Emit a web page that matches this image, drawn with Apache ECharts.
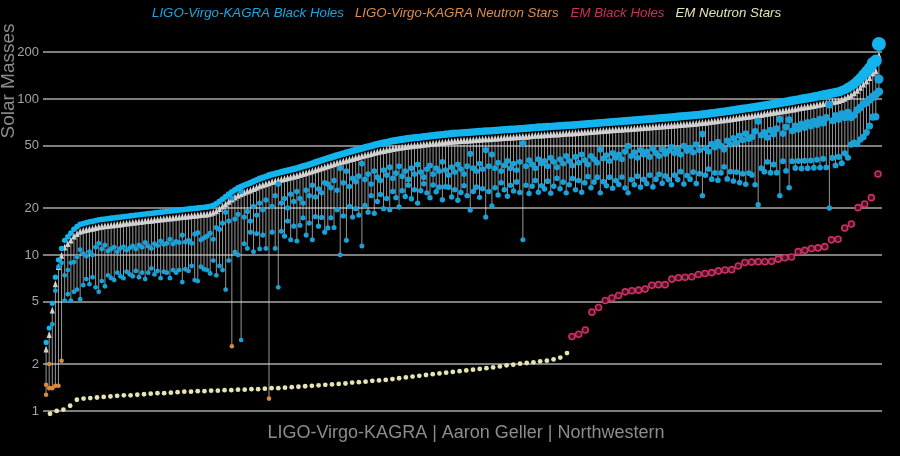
<!DOCTYPE html>
<html>
<head>
<meta charset="utf-8">
<title>Masses in the Stellar Graveyard</title>
<script src="https://cdn.jsdelivr.net/npm/echarts@6/dist/echarts.min.js"></script>
<style>
  html, body { margin: 0; padding: 0; background: #000; }
  #chart { width: 900px; height: 456px; }
</style>
</head>
<body>
<div id="chart"></div>
<script>
// LIGO-Virgo-KAGRA mergers, sorted by remnant mass (solar masses)
const remnant = [
  2.75, 3.4, 4.9, 7.2, 9.3, 11.0, 12.4, 13.1, 13.8, 14.6,
  15.2, 15.7, 15.9, 16.1, 16.3, 16.4, 16.6, 16.8, 16.9, 17.0,
  17.1, 17.2, 17.3, 17.4, 17.5, 17.6, 17.7, 17.8, 17.9, 18.0,
  18.1, 18.2, 18.3, 18.4, 18.5, 18.6, 18.7, 18.8, 18.9, 19.0,
  19.1, 19.2, 19.3, 19.4, 19.5, 19.6, 19.7, 19.8, 19.9, 20.0,
  20.1, 20.2, 20.3, 20.5, 20.8, 21.3, 22.0, 22.8, 23.6, 24.5,
  25.3, 26.1, 26.8, 27.4, 28.0, 28.5, 29.0, 29.6, 30.2, 30.8,
  31.3, 31.8, 32.3, 32.8, 33.2, 33.6, 34.0, 34.4, 34.8, 35.2,
  35.6, 36.0, 36.5, 37.0, 37.5, 38.0, 38.6, 39.2, 39.8, 40.4,
  41.0, 41.6, 42.2, 42.8, 43.4, 44.0, 44.6, 45.2, 45.8, 46.4,
  47.0, 47.6, 48.2, 48.8, 49.4, 50.0, 50.6, 51.2, 51.8, 52.3,
  52.8, 53.3, 53.8, 54.2, 54.6, 55.0, 55.4, 55.8, 56.1, 56.4,
  56.7, 57.0, 57.3, 57.6, 57.9, 58.2, 58.5, 58.8, 59.1, 59.4,
  59.7, 60.0, 60.2, 60.4, 60.6, 60.8, 61.0, 61.2, 61.4, 61.6,
  61.8, 62.0, 62.2, 62.4, 62.6, 62.8, 63.0, 63.2, 63.4, 63.6,
  63.8, 64.0, 64.2, 64.4, 64.6, 64.8, 65.0, 65.3, 65.6, 65.9,
  66.0, 66.2, 66.4, 66.6, 66.8, 67.0, 67.2, 67.4, 67.6, 67.8,
  68.0, 68.3, 68.5, 68.8, 69.0, 69.3, 69.5, 69.8, 70.0, 70.3,
  70.5, 70.8, 71.0, 71.3, 71.5, 71.8, 72.0, 72.3, 72.5, 72.8,
  73.0, 73.3, 73.5, 73.8, 74.0, 74.3, 74.6, 74.9, 75.2, 75.5,
  75.8, 76.1, 76.4, 76.7, 77.0, 77.3, 77.6, 77.9, 78.2, 78.5,
  78.8, 79.2, 79.6, 80.0, 80.5, 81.0, 81.5, 82.0, 82.5, 83.0,
  83.5, 84.0, 84.6, 85.2, 85.8, 86.4, 87.0, 87.6, 88.2, 88.8,
  89.4, 90.0, 90.7, 91.4, 92.1, 92.8, 93.5, 94.2, 95.0, 95.8,
  96.6, 97.4, 98.2, 99.0, 99.8, 100.6, 101.4, 102.2, 103.0, 104.0,
  105, 106, 107, 108, 109, 110, 111, 113, 115, 118,
  121, 125, 130, 136, 143, 150, 158, 170, 176, 225
]

const primary = [
  1.47, 2.0, 3.6, 5.9, 8.4, 8.9, 7.4, 8.0, 8.9, 9.0,
  9.7, 10.8, 10.2, 9.8, 10.5, 10.0, 11.2, 11.9, 10.9, 11.6,
  10.6, 10.9, 11.2, 10.5, 11.0, 11.3, 10.7, 11.1, 11.4, 10.9,
  11.6, 11.2, 12.0, 11.4, 11.0, 11.8, 11.5, 12.3, 11.7, 11.9,
  12.6, 11.8, 12.2, 12.0, 13.4, 12.1, 12.4, 11.9, 13.6, 13.9,
  12.5, 12.9, 13.2, 13.8, 12.6, 15.0, 14.6, 16.0, 18.8, 16.5,
  23.2, 17.0, 18.2, 25.5, 17.5, 19.0, 16.5, 20.5, 18.0, 21.5,
  19.5, 22.5, 32.5, 20.5, 24.0, 28.5, 21.5, 23.0, 20.0, 24.5,
  22.0, 25.5, 23.0, 21.5, 26.0, 24.0, 28.0, 23.5, 26.5, 25.0,
  29.0, 28.5, 27.0, 30.0, 26.0, 36.0, 29.0, 34.5, 27.5, 31.0,
  29.5, 32.0, 38.5, 30.5, 33.0, 28.5, 34.5, 31.5, 30.0, 35.0,
  32.5, 36.5, 31.0, 33.5, 37.0, 32.0, 34.5, 30.5, 36.0, 33.0,
  38.0, 34.0, 31.5, 35.5, 37.5, 33.0, 36.0, 34.5, 39.5, 35.0,
  32.5, 36.5, 34.0, 38.0, 35.5, 33.0, 37.0, 44.5, 36.0, 34.5,
  38.5, 35.5, 47.0, 37.0, 44.0, 36.0, 39.0, 34.5, 37.5, 40.0,
  36.0, 38.5, 35.0, 39.5, 52.0, 37.0, 40.5, 38.0, 36.0, 41.0,
  38.5, 40.0, 37.0, 42.0, 39.5, 36.5, 41.0, 38.5, 43.0, 40.0,
  37.5, 42.5, 39.0, 44.0, 40.5, 38.0, 43.0, 41.0, 39.0, 47.5,
  41.5, 43.5, 40.0, 45.0, 42.0, 44.0, 41.0, 46.0, 50.0, 43.0,
  45.5, 42.0, 47.0, 44.0, 46.0, 42.5, 48.0, 45.0, 43.0, 47.5,
  44.5, 46.5, 49.0, 45.0, 47.5, 44.0, 50.0, 46.5, 48.5, 45.5,
  51.0, 47.0, 59.5, 48.5, 46.0, 51.5, 49.0, 53.0, 50.0, 47.5,
  54.0, 51.0, 56.0, 52.5, 58.0, 54.5, 60.0, 55.5, 57.0, 62.0,
  72.0, 58.5, 61.0, 56.5, 63.0, 59.5, 64.5, 74.0, 60.0, 66.0,
  73.5, 62.5, 67.0, 64.0, 69.0, 65.5, 70.5, 67.0, 72.0, 68.5,
  74.0, 70.0, 76.0, 92.0, 72.5, 78.0, 74.0, 80.0, 76.0, 82.0,
  76.0, 79.0, 85.0, 88.0, 93.0, 95.0, 99.0, 103.0, 107.0, 134.0
]

const secondary = [
  1.27, 1.4, 1.4, 1.45, 1.45, 2.1, 5.1, 5.6, 5.1, 5.8,
  6.0, 5.2, 6.4, 7.0, 6.5, 7.2, 6.2, 5.8, 6.8, 6.3,
  7.4, 7.1, 6.9, 7.7, 7.3, 7.1, 7.8, 7.5, 7.3, 7.9,
  7.2, 7.7, 7.0, 7.7, 8.2, 7.5, 7.9, 7.1, 7.8, 7.7,
  7.1, 8.0, 7.7, 8.0, 6.7, 8.1, 7.9, 8.5, 6.9, 6.8,
  8.4, 8.1, 8.0, 7.6, 9.2, 7.4, 8.5, 8.0, 6.0, 9.2,
  2.6, 10.4, 10.0, 2.85, 11.8, 11.0, 14.0, 10.5, 13.7, 10.9,
  13.4, 11.0, 1.2, 14.0, 11.0, 6.2, 14.2, 13.2, 16.5, 12.5,
  15.3, 12.3, 15.5, 17.3, 13.4, 16.0, 12.5, 17.6, 15.3, 17.4,
  14.0, 14.9, 17.3, 15.0, 19.5, 10.0, 17.8, 12.4, 20.5, 17.5,
  19.8, 18.0, 11.4, 20.8, 18.8, 24.0, 18.5, 22.0, 24.4, 19.8,
  23.0, 19.5, 25.5, 23.3, 20.3, 25.8, 23.7, 28.0, 22.9, 26.2,
  21.5, 25.8, 28.6, 25.0, 23.3, 28.1, 25.4, 27.2, 22.6, 27.4,
  27.2, 23.5, 26.2, 22.4, 25.1, 27.8, 24.0, 19.4, 25.5, 27.2,
  23.4, 26.6, 17.5, 25.5, 20.6, 27.0, 24.2, 29.0, 26.2, 23.8,
  28.0, 25.7, 29.4, 25.1, 12.5, 28.0, 24.8, 27.6, 30.0, 25.2,
  27.8, 26.5, 29.7, 24.9, 27.6, 31.0, 26.6, 29.3, 25.0, 28.2,
  30.9, 26.2, 30.0, 25.2, 29.0, 31.8, 27.0, 29.3, 31.5, 25.0,
  29.5, 27.8, 31.5, 26.8, 30.0, 28.3, 31.6, 26.9, 25.0, 30.4,
  28.2, 32.0, 27.2, 30.5, 28.7, 32.5, 27.3, 30.6, 32.9, 28.8,
  32.1, 30.4, 28.2, 32.5, 30.4, 34.2, 28.5, 32.3, 30.6, 34.0,
  28.7, 33.2, 24.0, 32.5, 35.5, 30.6, 33.6, 30.1, 33.6, 36.7,
  30.7, 34.2, 29.8, 34.0, 29.1, 33.2, 28.4, 33.5, 32.6, 28.2,
  21.0, 36.0, 34.2, 39.5, 33.7, 38.0, 33.7, 24.0, 39.8, 34.6,
  27.0, 39.8, 36.1, 40.0, 35.8, 40.1, 36.0, 40.3, 36.2, 40.7,
  36.3, 41.3, 36.4, 20.0, 41.9, 37.5, 42.5, 38.7, 44.8, 42.0,
  51.0, 52.5, 51.5, 55.0, 57.0, 61.0, 67.0, 76.5, 77.0, 111.0
]

// electromagnetic observations, sorted
const emNeutronStars = [
  0.96, 1.00, 1.02, 1.08, 1.18, 1.20, 1.21, 1.22, 1.23, 1.24,
  1.25, 1.26, 1.26, 1.27, 1.28, 1.29, 1.30, 1.30, 1.31, 1.32,
  1.33, 1.33, 1.34, 1.34, 1.35, 1.35, 1.36, 1.36, 1.37, 1.37,
  1.38, 1.38, 1.39, 1.40, 1.40, 1.41, 1.42, 1.43, 1.44, 1.45,
  1.46, 1.47, 1.48, 1.49, 1.50, 1.52, 1.53, 1.54, 1.56, 1.57,
  1.58, 1.60, 1.62, 1.64, 1.66, 1.68, 1.70, 1.72, 1.74, 1.76,
  1.78, 1.80, 1.82, 1.84, 1.86, 1.88, 1.90, 1.93, 1.96, 1.98,
  2.01, 2.03, 2.05, 2.08, 2.10, 2.14, 2.20, 2.35
]

const emBlackHoles = [
  3.0, 3.1, 3.3, 4.3, 4.6, 5.1, 5.3, 5.5, 5.8, 5.9,
  5.95, 6.05, 6.4, 6.45, 6.45, 7.0, 7.15, 7.2, 7.25, 7.5,
  7.6, 7.7, 7.9, 8.0, 8.05, 8.5, 8.95, 9.0, 9.05, 9.05,
  9.1, 9.4, 9.6, 9.7, 10.5, 10.7, 11.0, 11.1, 11.3, 12.5,
  12.6, 14.9, 15.8, 20.1, 21.2, 23.3, 33
]

const yTicks = [1, 2, 5, 10, 20, 50, 100, 200]

const names = {
  lvkBH: 'LIGO-Virgo-KAGRA Black Holes',
  lvkNS: 'LIGO-Virgo-KAGRA Neutron Stars',
  emBH: 'EM Black Holes',
  emNS: 'EM Neutron Stars'
}
const colors = {
  remnant: '#12b4ee',
  lvkBH: '#1aa1d8',
  lvkNS: '#d98a3e',
  emBH: '#c9325f',
  emNS: '#e6e4b2',
  legendBH: '#1ea6e0',
  legendNS: '#dd8f4c'
}
const font = 'Arial, "Liberation Sans", sans-serif'

const remnantSize = m => 5 + m * 0.04
const compSize = m => 4.6 + m * 0.035

// split the components into black holes / neutron stars, build the arrows
const bhComps = []
const nsComps = []
const remnants = []
const arrows = []
remnant.forEach((r, i) => {
  [primary[i], secondary[i]].forEach(m => {
    (m < 2.7 ? nsComps : bhComps).push([i, m])
  })
  remnants.push([i, r])
  arrows.push([i, Math.min(primary[i], secondary[i]), r])
})

const chart = echarts.init(document.getElementById('chart'))

// all three grids share the same log scale for masses
const massAxis = (gridIndex, show) => ({
  type: 'log',
  logBase: 10,
  gridIndex,
  min: 0.9,
  max: 300,
  axisLine: { show: false },
  axisTick: { show: false, customValues: yTicks },
  axisLabel: {
    show,
    customValues: yTicks,
    color: '#a3a3a3',
    fontSize: 13,
    fontFamily: font,
    margin: 4
  },
  splitLine: { show, lineStyle: { color: '#7e7e7e', width: 2 } }
})

const grid = (left, right) => ({
  left, right, top: 24.5, bottom: 37.9, outerBoundsMode: 'none', containLabel: false
})

const option = {
  backgroundColor: '#000',
  animation: false,
  legend: {
    top: 2,
    left: 142,
    itemWidth: 0,
    itemHeight: 0,
    itemGap: 6,
    selectedMode: false,
    textStyle: { fontSize: 13.3, fontStyle: 'italic', fontFamily: font },
    data: [
      { name: names.lvkBH, textStyle: { color: colors.legendBH } },
      { name: names.lvkNS, textStyle: { color: colors.legendNS } },
      { name: names.emBH, textStyle: { color: colors.emBH } },
      { name: names.emNS, textStyle: { color: colors.emNS } }
    ]
  },
  grid: [grid(43, 18), grid(50, 333), grid(572, 22)],
  xAxis: [
    { type: 'value', gridIndex: 0, min: -1, max: remnant.length, show: false },
    { type: 'value', gridIndex: 1, min: 0, max: emNeutronStars.length - 1, show: false },
    { type: 'value', gridIndex: 2, min: 0, max: emBlackHoles.length - 1, show: false }
  ],
  yAxis: [massAxis(0, true), massAxis(1, false), massAxis(2, false)],
  graphic: [
    {
      type: 'text',
      x: 9,
      y: 81,
      rotation: Math.PI / 2,
      style: {
        text: 'Solar Masses',
        fill: '#8c8c8c',
        font: '19px ' + font,
        align: 'center',
        verticalAlign: 'middle'
      }
    },
    {
      type: 'text',
      x: 466,
      y: 433,
      style: {
        text: 'LIGO-Virgo-KAGRA | Aaron Geller | Northwestern',
        fill: '#8c8c8c',
        font: '18px ' + font,
        align: 'center',
        verticalAlign: 'middle'
      }
    }
  ],
  series: [
    {
      // stems + arrow heads from the components up to the remnant
      name: 'arrows',
      type: 'custom',
      xAxisIndex: 0,
      yAxisIndex: 0,
      z: 2,
      silent: true,
      encode: { x: 0, y: [1, 2] },
      data: arrows,
      renderItem: (params, api) => {
        const lo = api.coord([api.value(0), api.value(1)])
        const hi = api.coord([api.value(0), api.value(2)])
        const tip = hi[1] + remnantSize(api.value(2)) / 2 + 0.5
        return {
          type: 'group',
          children: [
            {
              type: 'line',
              shape: { x1: lo[0], y1: lo[1], x2: hi[0], y2: tip + 5 },
              style: { stroke: 'rgba(215,215,215,0.7)', lineWidth: 1 }
            },
            {
              type: 'polygon',
              shape: { points: [[hi[0], tip], [hi[0] - 2.6, tip + 7], [hi[0] + 2.6, tip + 7]] },
              style: { fill: '#d2d2d2' }
            }
          ]
        }
      }
    },
    {
      name: names.lvkBH,
      type: 'scatter',
      xAxisIndex: 0,
      yAxisIndex: 0,
      z: 3,
      data: bhComps,
      symbolSize: v => compSize(v[1]),
      itemStyle: { color: colors.lvkBH, opacity: 1 }
    },
    {
      name: names.lvkNS,
      type: 'scatter',
      xAxisIndex: 0,
      yAxisIndex: 0,
      z: 3,
      data: nsComps,
      symbolSize: 4.6,
      itemStyle: { color: colors.lvkNS, opacity: 1 }
    },
    {
      name: names.lvkBH,
      type: 'scatter',
      xAxisIndex: 0,
      yAxisIndex: 0,
      z: 4,
      data: remnants,
      symbolSize: v => remnantSize(v[1]),
      itemStyle: { color: colors.remnant, opacity: 1 }
    },
    {
      name: names.emNS,
      type: 'scatter',
      xAxisIndex: 1,
      yAxisIndex: 1,
      z: 3,
      data: emNeutronStars.map((m, i) => [i, m]),
      symbolSize: 4.8,
      itemStyle: { color: colors.emNS, opacity: 1 }
    },
    {
      name: names.emBH,
      type: 'scatter',
      xAxisIndex: 2,
      yAxisIndex: 2,
      z: 3,
      data: emBlackHoles.map((m, i) => [i, m]),
      symbolSize: 6,
      itemStyle: { color: '#4a0f24', borderColor: colors.emBH, borderWidth: 1.6, opacity: 1 }
    }
  ]
}

chart.setOption(option)
</script>
</body>
</html>
